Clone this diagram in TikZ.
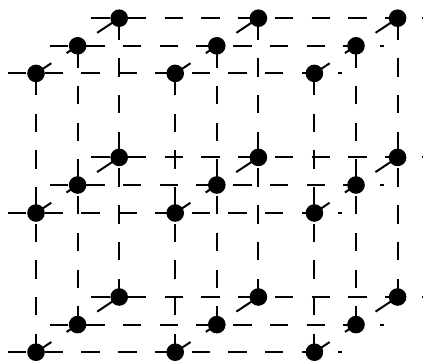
\documentclass[tikz,border=0pt]{standalone}

\tikzset{
  site/.style={circle, fill=black, draw=none, inner sep=0pt, minimum size=0.44cm},
  bond/.style={black, line width=0.05cm, dash pattern=on 0.459cm off 0.459cm},
}

\begin{document}
\begin{tikzpicture}
    \useasboundingbox (0,0) rectangle (10.575,9.025);

    % front layer
    \node[site] (a1) at (0.9,0.22) {};
    \node[site] (a2) at (4.38,0.22) {};
    \node[site] (a3) at (7.86,0.22) {};
    \node[site] (a4) at (0.9,3.7) {};
    \node[site] (a5) at (4.38,3.7) {};
    \node[site] (a6) at (7.86,3.7) {};
    \node[site] (a7) at (0.9,7.19) {};
    \node[site] (a8) at (4.38,7.19) {};
    \node[site] (a9) at (7.86,7.19) {};

    % middle layer
    \node[site] (b1) at (1.94,0.91) {};
    \node[site] (b2) at (5.42,0.91) {};
    \node[site] (b3) at (8.9,0.91) {};
    \node[site] (b4) at (1.94,4.4) {};
    \node[site] (b5) at (5.42,4.4) {};
    \node[site] (b6) at (8.9,4.4) {};
    \node[site] (b7) at (1.94,7.88) {};
    \node[site] (b8) at (5.42,7.88) {};
    \node[site] (b9) at (8.9,7.88) {};

    % back layer
    \node[site] (c1) at (2.98,1.6) {};
    \node[site] (c2) at (6.46,1.6) {};
    \node[site] (c3) at (9.94,1.6) {};
    \node[site] (c4) at (2.98,5.09) {};
    \node[site] (c5) at (6.46,5.09) {};
    \node[site] (c6) at (9.94,5.09) {};
    \node[site] (c7) at (2.98,8.57) {};
    \node[site] (c8) at (6.46,8.57) {};
    \node[site] (c9) at (9.94,8.57) {};

    % free ends of the rows
    \coordinate (a1l) at (0.2,0.22);
    \coordinate (a3r) at (8.56,0.22);
    \coordinate (a4l) at (0.2,3.7);
    \coordinate (a6r) at (8.56,3.7);
    \coordinate (a7l) at (0.2,7.19);
    \coordinate (a9r) at (8.56,7.19);
    \coordinate (b1l) at (1.24,0.91);
    \coordinate (b3r) at (9.6,0.91);
    \coordinate (b4l) at (1.24,4.4);
    \coordinate (b6r) at (9.6,4.4);
    \coordinate (b7l) at (1.24,7.88);
    \coordinate (b9r) at (9.6,7.88);
    \coordinate (c1l) at (2.28,1.6);
    \coordinate (c3r) at (10.64,1.6);
    \coordinate (c4l) at (2.28,5.09);
    \coordinate (c6r) at (10.64,5.09);
    \coordinate (c7l) at (2.28,8.57);
    \coordinate (c9r) at (10.64,8.57);

    % rows
    \draw[bond] (a1l) -- (a1.center) -- (a2.center) -- (a3.center) -- (a3r);
    \draw[bond] (a4l) -- (a4.center) -- (a5.center) -- (a6.center) -- (a6r);
    \draw[bond] (a7l) -- (a7.center) -- (a8.center) -- (a9.center) -- (a9r);
    \draw[bond] (b1l) -- (b1.center) -- (b2.center) -- (b3.center) -- (b3r);
    \draw[bond] (b4l) -- (b4.center) -- (b5.center) -- (b6.center) -- (b6r);
    \draw[bond] (b7l) -- (b7.center) -- (b8.center) -- (b9.center) -- (b9r);
    \draw[bond] (c1l) -- (c1.center) -- (c2.center) -- (c3.center) -- (c3r);
    \draw[bond] (c4l) -- (c4.center) -- (c5.center) -- (c6.center) -- (c6r);
    \draw[bond] (c7l) -- (c7.center) -- (c8.center) -- (c9.center) -- (c9r);

    % columns
    \draw[bond] (a1.center) -- (a4.center) -- (a7.center);
    \draw[bond] (a2.center) -- (a5.center) -- (a8.center);
    \draw[bond] (a3.center) -- (a6.center) -- (a9.center);
    \draw[bond] (b1.center) -- (b4.center) -- (b7.center);
    \draw[bond] (b2.center) -- (b5.center) -- (b8.center);
    \draw[bond] (b3.center) -- (b6.center) -- (b9.center);
    \draw[bond] (c1.center) -- (c4.center) -- (c7.center);
    \draw[bond] (c2.center) -- (c5.center) -- (c8.center);
    \draw[bond] (c3.center) -- (c6.center) -- (c9.center);

    % depth
    \draw[bond] (a1.center) -- (b1.center) -- (c1.center);
    \draw[bond] (a2.center) -- (b2.center) -- (c2.center);
    \draw[bond] (a3.center) -- (b3.center) -- (c3.center);
    \draw[bond] (a4.center) -- (b4.center) -- (c4.center);
    \draw[bond] (a5.center) -- (b5.center) -- (c5.center);
    \draw[bond] (a6.center) -- (b6.center) -- (c6.center);
    \draw[bond] (a7.center) -- (b7.center) -- (c7.center);
    \draw[bond] (a8.center) -- (b8.center) -- (c8.center);
    \draw[bond] (a9.center) -- (b9.center) -- (c9.center);
\end{tikzpicture}
\end{document}
